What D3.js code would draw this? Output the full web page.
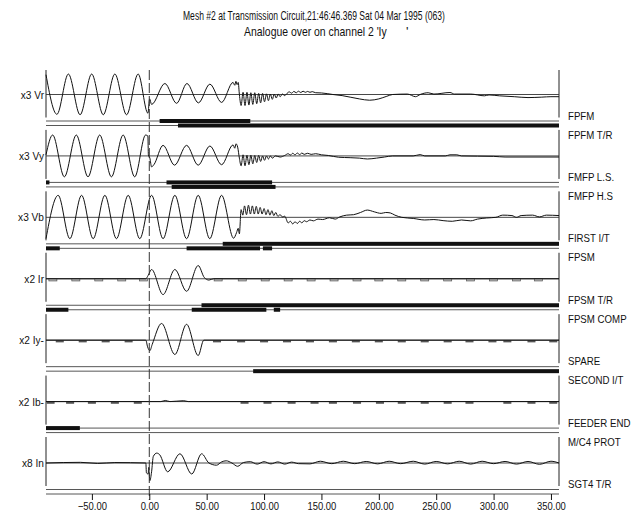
<!DOCTYPE html>
<html>
<head>
<meta charset="utf-8">
<script src="https://cdn.jsdelivr.net/npm/d3@7"></script>
<style>
body { margin: 0; background: #fff; }
text { font-family: "Liberation Sans", Arial, sans-serif; fill: #111; }
</style>
</head>
<body>
<script>
//width and height of svg
var w = 643;
var h = 515;

//titles
var titleText = "Mesh #2 at Transmission Circuit,21:46:46.369  Sat 04 Mar 1995 (063)";
var subTitleText = "Analogue over on channel 2 'Iy";

//analogue channels (left) and digital channels (right)
var analogLabels = ["x3 Vr", "x3 Vy", "x3 Vb", "x2 Ir", "x2 Iy-", "x2 Ib-", "x8 In"];
var digitalLabels = ["FPFM", "FPFM T/R", "FMFP L.S.", "FMFP H.S", "FIRST I/T", "FPSM",
                     "FPSM T/R", "FPSM COMP", "SPARE", "SECOND I/T", "FEEDER END", "M/C4 PROT", "SGT4 T/R"];

//x axis ticks (ms)
var xTicks = [-50, 0, 50, 100, 150, 200, 250, 300, 350];

//analogue traces, [ms, per unit] (peaks, troughs and turning points)
var vr = [[-90, 0.9], [-80.5, -0.9], [-70.5, 0.93], [-60.3, -0.92], [-50.2, 0.93], [-40.1, -0.92], [-30, 0.93],
    [-19.8, -0.92], [-9.7, 0.93], [-1.2, -0.85], [0.3, -0.2], [2, -0.45], [13.6, 0.5], [23.8, -0.4], [32.8, 0.5],
    [42.8, -0.38], [52.8, 0.47], [63, -0.36], [73, 0.55], [74.5, 0.42], [75.5, 0.6], [76.5, 0.45], [77.5, 0.55],
    [78.5, 0], [80, -0.5], [81.7, 0.1], [83.4, -0.5], [85.1, 0.1], [86.8, -0.48], [88.5, 0.08], [90.2, -0.45],
    [91.9, 0.08], [93.6, -0.42], [95.3, 0.05], [97, -0.38], [98.7, 0.05], [100.4, -0.33], [102.1, 0.03],
    [103.8, -0.28], [105.5, 0.02], [107.2, -0.22], [108.9, 0.02], [110.6, -0.16], [112.3, 0.02], [114, -0.1],
    [116, 0.02], [118, -0.05], [120, 0.05], [122, 0.12], [124, 0.06], [126, 0.14], [128, 0.08], [130, 0.15],
    [132, 0.09], [134, 0.15], [136, 0.1], [138, 0.14], [140, 0.1], [142, 0.13], [145, 0.08], [150, 0.07],
    [155, 0.04], [160, 0], [168, -0.05], [175, -0.12], [183, -0.2], [192, -0.26], [200, -0.2], [207, -0.08],
    [212, 0], [225, 0.02], [232, -0.1], [236, 0], [243, 0.08], [248, 0.02], [262, 0.09], [266, 0.02], [280, 0.02],
    [292, -0.06], [296, -0.02], [305, -0.06], [318, -0.1], [330, -0.14], [342, -0.12], [350, -0.1], [357, -0.1]];

var vy = [[-90, 0.05], [-84.2, 0.95], [-74, -0.95], [-63.6, 0.95], [-53.4, -0.95], [-43.2, 0.95], [-33, -0.95],
    [-22.8, 0.95], [-12.7, -0.95], [-3.2, 0.95], [-1.2, 0.9], [-0.8, 0.05], [0.5, -0.1], [2, -0.5], [4, -0.4],
    [12, 0.48], [22, -0.42], [32.5, 0.48], [42.6, -0.42], [52.8, 0.45], [63, -0.4], [73, 0.5], [74.5, 0.35],
    [75.5, 0.55], [77, 0.4], [78.5, -0.1], [80, -0.45], [81.7, 0.05], [83.4, -0.45], [85.1, 0.03], [86.8, -0.4],
    [88.5, 0.03], [90.2, -0.36], [91.9, 0.02], [93.6, -0.3], [95.3, 0.02], [97, -0.25], [98.7, 0], [100.4, -0.2],
    [102.1, 0], [103.8, -0.14], [105.5, 0], [107.2, -0.1], [110, 0], [114, -0.05], [118, 0.02], [121, 0.1],
    [123, 0.04], [125, 0.12], [127, 0.05], [129, 0.13], [131, 0.06], [133, 0.13], [135, 0.07], [138, 0.12],
    [141, 0.07], [145, 0.1], [150, 0.05], [156, 0.02], [165, -0.06], [175, -0.08], [183, -0.1], [190, -0.14],
    [198, -0.1], [205, -0.05], [212, 0], [230, 0], [236, 0.06], [240, 0], [258, 0], [262, 0.05], [268, 0.05],
    [272, 0], [300, -0.02], [310, -0.05], [357, -0.05]];

var vb = [[-90, -0.97], [-79.4, 1], [-69.2, -0.97], [-59, 1], [-48.9, -0.97], [-38.7, 1], [-28.6, -0.97],
    [-18.4, 1], [-8.3, -0.97], [2, 1], [12, -0.97], [22.3, 1], [32.5, -0.97], [42.6, 1], [52.7, -0.97], [63, 1],
    [73.5, -0.95], [76, -0.7], [77.5, -0.5], [78.5, -0.75], [80, 0.35], [81.5, 0.1], [83, 0.52], [84.7, 0.12],
    [86.4, 0.55], [88.1, 0.15], [89.8, 0.52], [91.5, 0.15], [93.2, 0.5], [94.9, 0.15], [96.6, 0.45], [98.3, 0.15],
    [100, 0.4], [101.7, 0.12], [103.4, 0.35], [105.1, 0.1], [106.8, 0.3], [108.5, 0.08], [110.2, 0.22], [112, 0.05],
    [114, 0.12], [116, 0.02], [118, 0.05], [121, -0.25], [123, -0.18], [125, -0.3], [127, -0.2], [129, -0.28],
    [131, -0.18], [133, -0.25], [135, -0.15], [137, -0.2], [140, -0.12], [143, -0.16], [147, -0.08], [151, -0.1],
    [157, -0.02], [162, -0.08], [166, 0.02], [172, 0.1], [178, 0.12], [184, 0.22], [190, 0.33], [196, 0.25],
    [202, 0.18], [206, 0.22], [210, 0.2], [214, 0.1], [220, 0], [230, -0.05], [240, -0.12], [248, -0.1],
    [256, -0.15], [264, -0.18], [272, -0.12], [280, -0.16], [286, -0.08], [294, -0.03], [302, 0], [308, 0.1],
    [316, 0.08], [320, 0], [324, 0.08], [334, 0.1], [340, 0.02], [346, 0.1], [357, 0.08]];

var ir = [[-90, 0], [-3, 0], [-1, 0.15], [2, 0.42], [12, -0.72], [22.3, 0.42], [32.5, -0.57], [42.6, 0.6],
    [48, 0.05], [52, -0.06], [56, 0], [357, 0]];

var iy = [[-90, 0], [-3, 0], [-1.5, -0.3], [0.5, -0.48], [2.5, -0.2], [10.7, 0.76], [22.3, -0.65], [32.5, 0.72],
    [42.6, -0.7], [47.5, 0], [357, 0]];

var ib = [[-90, 0], [10, 0], [14, 0.05], [18, 0], [30, 0.04], [34, 0], [357, 0]];

var inn = [[-90, 0], [-60, 0.03], [-45, -0.02], [-30, 0.02], [-3, 0], [-2.5, -0.45], [-1, -0.5], [-0.5, -0.2],
    [0.5, -0.8], [2, -0.4], [3.5, 0.3], [6.5, 0.45], [9, 0.38], [16, -0.4], [26.7, 0.42], [37, -0.5], [45.6, 0.42],
    [52, 0], [58.6, -0.1], [63, 0.05], [67, 0.1], [72, 0], [77, -0.15], [82, 0.02], [88, 0.06], [94, -0.05],
    [100, 0.06], [106, -0.04], [112, 0.05], [118, -0.05], [124, 0.04], [130, -0.03], [140, -0.04], [149, 0.08],
    [159, -0.03], [169, 0.08], [179, -0.03], [189, 0.07], [199, -0.04], [209, 0.08], [219, -0.03], [230, 0.08],
    [240, -0.05], [250, 0.07], [260, -0.04], [270, 0.08], [280, -0.05], [290, 0.08], [300, -0.03], [310, 0.07],
    [320, -0.05], [330, 0.07], [340, -0.06], [350, 0.08], [357, 0]];

var analogSeries = [vr, vy, vb, ir, iy, ib, inn];

//small load-current blips on the current baselines (ms)
var irBlips = [-84, -64, -44, -24, -5, 60, 81, 101, 121, 141, 161, 181, 200, 220, 240, 260, 280, 300, 320, 339];
var iyBlips = [-78, -58, -38, -18, 59, 80, 100, 120, 140, 160, 180, 200, 220, 240, 260, 279, 299, 312, 333, 352];
var ibBlips = [-86, -69, -50, -30, -10, 83, 103, 124, 144, 160, 181, 201, 220, 240, 260, 279, 312, 333, 352];
var blipSeries = [[], [], [], irBlips, iyBlips, ibBlips, []];

//digital channels: on periods [from, to] in ms, two rows under each analogue trace
var digitalOn = [
    [[9, 88]],
    [[25, 357]],
    [[-90, -87], [15, 107]],
    [[19.5, 110]],
    [[64, 357]],
    [[-90, -78], [32.5, 96.5], [99, 107]],
    [[45.5, 357]],
    [[-90, -70.5], [37, 102], [108.5, 114]],
    [],
    [[90.5, 357]],
    [[-90, -60.5]],
    [],
    [],
    []
];

//set up the svg canvas
var svg = d3.select("body")
            .append("svg")
            .attr("width", w)
            .attr("height", h);

//time scale
var xScale = d3.scaleLinear()
                .domain([-90, 357])
                .range([46, 559]);

//one panel per analogue channel
var panelScale = d3.scalePoint()
                .domain(analogLabels)
                .range([94.5, 463]);

var line = d3.line()
             .x(function(d) { return xScale(d[0]); })
             .curve(d3.curveMonotoneX);

//narrow text: the record uses a condensed face, squeeze a normal one
function narrow(sel, x, y, sx) {
    sel.attr("transform", "translate(" + x + "," + y + ") scale(" + sx + ",1)");
}

//squeeze a text to a given width
function fitWidth(sel, x, y, width) {
    var len = sel.node().getComputedTextLength();
    narrow(sel, x, y, width / len);
}

//title
svg.append("text")
    .style("font-size", "13px")
    .text(titleText)
    .call(fitWidth, 183, 20, 262);

svg.append("text")
    .style("font-size", "13px")
    .text(subTitleText)
    .call(fitWidth, 244, 36, 143);

svg.append("text")
    .attr("x", 406)
    .attr("y", 36)
    .style("font-size", "13px")
    .text("'");

//draw each panel
analogLabels.forEach(function(label, i) {
    var base = panelScale(label);
    var yScale = d3.scaleLinear().domain([-1, 1]).range([base + 22, base - 22]);
    var g = svg.append("g");

    //left and right frame
    [xScale.range()[0], xScale.range()[1]].forEach(function(xx) {
        g.append("line")
            .attr("x1", xx).attr("x2", xx)
            .attr("y1", Math.max(70, base - 26)).attr("y2", base + 23)
            .attr("stroke", "#222")
            .attr("stroke-width", 1);
    });

    //baseline
    g.append("line")
        .attr("x1", xScale.range()[0]).attr("x2", xScale.range()[1])
        .attr("y1", base).attr("y2", base)
        .attr("stroke", "#333")
        .attr("stroke-width", 0.9);

    //blips
    g.selectAll("rect.blip")
        .data(blipSeries[i])
        .enter()
        .append("rect")
        .attr("class", "blip")
        .attr("x", function(d) { return xScale(d - 3.5); })
        .attr("y", base)
        .attr("width", function(d) { return xScale(d + 3.5) - xScale(d - 3.5); })
        .attr("height", 2.2)
        .attr("fill", i == 3 ? "#bbb" : "#555")
        .attr("stroke", i == 3 ? "#555" : "none")
        .attr("stroke-width", 0.7);

    //trace
    g.append("path")
        .datum(analogSeries[i])
        .attr("d", line.y(function(d) { return yScale(d[1]); }))
        .attr("fill", "none")
        .attr("stroke", "#111")
        .attr("stroke-width", 1);

    //channel label
    g.append("text")
        .attr("text-anchor", "end")
        .style("font-size", "11.5px")
        .text(label)
        .call(narrow, 44, base + 4, 0.88);

    //two digital rows under the trace
    [26.5, 31].forEach(function(off, j) {
        var row = i * 2 + j;
        var yy = base + off;
        g.append("line")
            .attr("x1", xScale.range()[0]).attr("x2", xScale.range()[1])
            .attr("y1", yy).attr("y2", yy)
            .attr("stroke", "#444")
            .attr("stroke-width", 0.9);
        g.selectAll("rect.on" + j)
            .data(digitalOn[row])
            .enter()
            .append("rect")
            .attr("class", "on" + j)
            .attr("x", function(d) { return xScale(d[0]); })
            .attr("y", yy - 2)
            .attr("width", function(d) { return xScale(d[1]) - xScale(d[0]); })
            .attr("height", 4)
            .attr("fill", "#111");
    });
});

//digital channel labels on the right
svg.selectAll("text.dig")
    .data(digitalLabels)
    .enter()
    .append("text")
    .attr("class", "dig")
    .style("font-size", "11px")
    .text(function(d) { return d; })
    .each(function(d, i) {
        var base = panelScale(analogLabels[Math.floor(i / 2)]);
        d3.select(this).call(narrow, 568, base + (i % 2 == 0 ? 25 : 44), 0.88);
    });

//trigger line at 0 ms
svg.append("line")
    .attr("x1", xScale(0)).attr("x2", xScale(0))
    .attr("y1", 70).attr("y2", 500)
    .attr("stroke", "#333")
    .attr("stroke-width", 1)
    .attr("stroke-dasharray", "10,3");

//time axis
var xAxis = d3.axisBottom(xScale)
              .tickValues(xTicks)
              .tickFormat(d3.format(".2f"))
              .tickSize(6)
              .tickPadding(2);

var axisG = svg.append("g")
    .attr("transform", "translate(0,494)")
    .call(xAxis);
axisG.select(".domain").remove();
axisG.selectAll("line").attr("stroke", "#111");
axisG.selectAll("text")
    .attr("fill", "#111")
    .attr("transform", "scale(0.82,1)")
    .style("font-family", "\"Liberation Sans\", Arial, sans-serif")
    .style("font-size", "11.5px");
</script>
</body>
</html>
